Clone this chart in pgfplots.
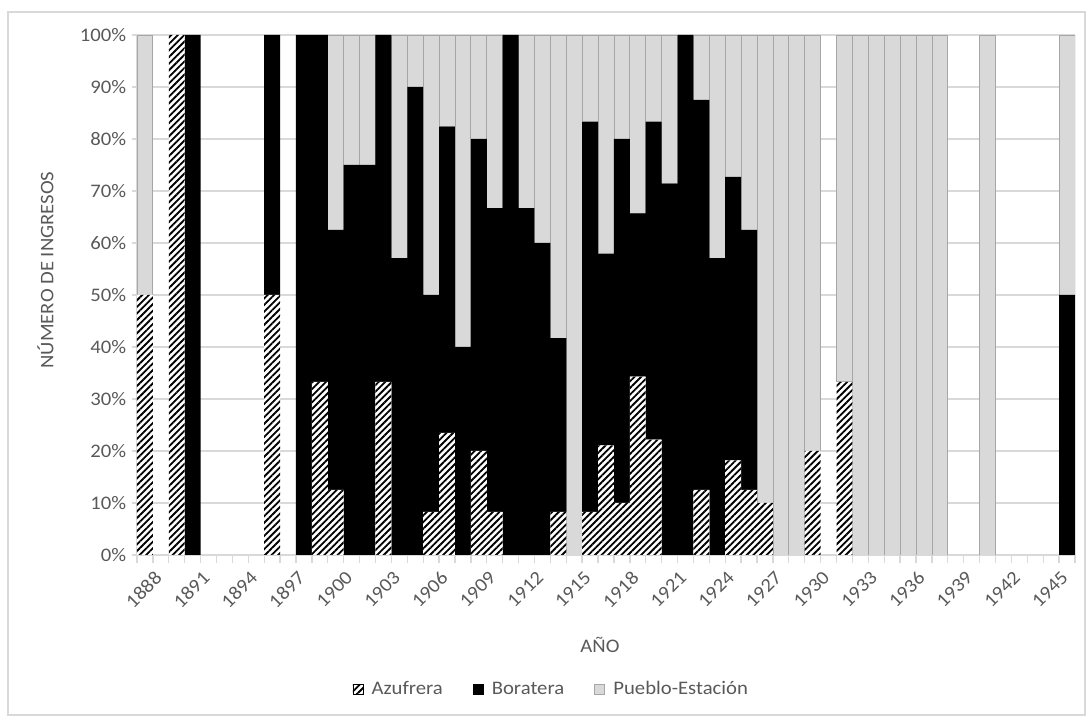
\documentclass[border=0pt]{standalone}
\usepackage{pgfplots}
\pgfplotsset{compat=1.18}
\usepackage{pgfplotstable}
\usepackage{fontspec}
\setmainfont{Carlito}[FakeStretch=1.08]
\usetikzlibrary{patterns.meta}
\definecolor{txt}{HTML}{595959}
\definecolor{gridc}{HTML}{D9D9D9}
\definecolor{pue}{HTML}{D9D9D9}
\definecolor{pueb}{HTML}{A6A6A6}
\newcommand\cf{\fontsize{11.5}{13}\selectfont\color{txt}}

\pgfplotstableread{
year A B P
1888 50 0 50
1889 0 0 0
1890 100 0 0
1891 0 100 0
1892 0 0 0
1893 0 0 0
1894 0 0 0
1895 0 0 0
1896 50 50 0
1897 0 0 0
1898 0 100 0
1899 33.3 66.7 0
1900 12.5 50 37.5
1901 0 75 25
1902 0 75 25
1903 33.3 66.7 0
1904 0 57.1 42.9
1905 0 90 10
1906 8.3 41.7 50
1907 23.5 58.9 17.6
1908 0 40 60
1909 20 60 20
1910 8.3 58.4 33.3
1911 0 100 0
1912 0 66.7 33.3
1913 0 60 40
1914 8.3 33.4 58.3
1915 0 0 100
1916 8.3 75 16.7
1917 21.1 36.8 42.1
1918 10 70 20
1919 34.3 31.4 34.3
1920 22.2 61.1 16.7
1921 0 71.4 28.6
1922 0 100 0
1923 12.5 75 12.5
1924 0 57.1 42.9
1925 18.2 54.5 27.3
1926 12.5 50 37.5
1927 10 0 90
1928 0 0 100
1929 0 0 100
1930 20 0 80
1931 0 0 0
1932 33.3 0 66.7
1933 0 0 100
1934 0 0 100
1935 0 0 100
1936 0 0 100
1937 0 0 100
1938 0 0 100
1939 0 0 0
1940 0 0 0
1941 0 0 100
1942 0 0 0
1943 0 0 0
1944 0 0 0
1945 0 0 0
1946 0 50 50
}\data

\begin{document}
\begin{tikzpicture}
\useasboundingbox (-82.2pt,-99.6pt) rectangle (573pt,333pt);
\draw[gridc, line width=0.8pt] (-77.4pt,-96pt) rectangle (568.8pt,325.8pt);
\begin{axis}[
  at={(0,0)}, anchor=south west,
  scale only axis, width=562.8pt, height=312pt,
  ybar stacked, bar width=1,
  xmin=1887.5, xmax=1946.5, ymin=0, ymax=100,
  axis x line=bottom, axis y line=left,
  axis line style={-, draw=gridc, line width=0.8pt},
  ymajorgrids, grid style={gridc, line width=0.8pt},
  xtick={1888,1891,...,1945},
  major x tick style={draw=none},
  minor xtick={1887.5,1888.5,...,1946.5},
  minor x tick style={draw=gridc, line width=0.8pt},
  minor tick length=5pt,
  ytick={0,10,...,100},
  major y tick style={draw=gridc, line width=0.8pt},
  major tick length=3pt,
  tick align=outside,
  /pgf/number format/assume math mode=true,
  xticklabel style={font=\cf, rotate=45, anchor=east, xshift=3pt, yshift=-12pt},
  xticklabel={\pgfmathprintnumber[1000 sep={}]{\tick}},
  yticklabel style={font=\cf},
  yticklabel={\pgfmathprintnumber{\tick}\%},
  xlabel={AÑO}, ylabel={NÚMERO DE INGRESOS},
  xlabel style={font=\cf, at={(axis description cs:0.4936,-0.173)}, anchor=center},
  ylabel style={font=\cf, at={(axis description cs:-0.0977,0.548)}, anchor=center},
  legend columns=3,
  legend style={draw=none, fill=none, font=\cf, at={(axis description cs:0.4424,-0.258)}, anchor=center,
    /tikz/every even column/.append style={column sep=16pt},
    /tikz/every odd column/.append style={column sep=3pt}},
  legend image code/.code={\draw[#1] (0pt,-3pt) rectangle (6pt,3pt);},
]
\addplot[fill=white, draw=none, postaction={pattern={Lines[angle=45,distance=2.8pt,line width=1.1pt]}}] table[x=year,y=A]{\data};
\addplot[fill=black, draw=none] table[x=year,y=B]{\data};
\addplot[fill=pue, draw=pueb, line width=0.5pt] table[x=year,y=P]{\data};
\legend{Azufrera, Boratera, Pueblo-Estación}
\end{axis}
\end{tikzpicture}
\end{document}
